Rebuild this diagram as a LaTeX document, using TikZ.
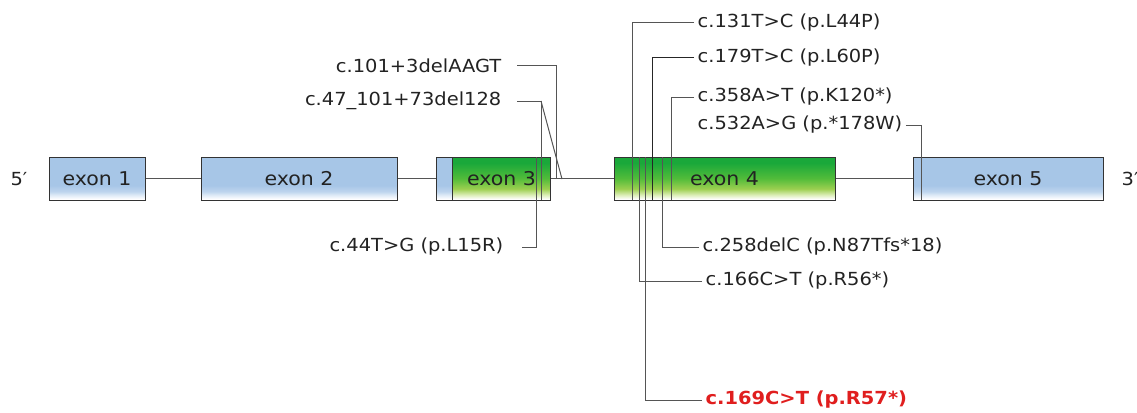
\documentclass[tikz,border=0pt]{standalone}
\usepackage{fontspec}
\setmainfont{DejaVu Sans}[FakeStretch=1.08]
\definecolor{eb1}{HTML}{A7C6E7}
\definecolor{eb2}{HTML}{BDD4ED}
\definecolor{eb3}{HTML}{E4EEF8}
\definecolor{eg1}{HTML}{1AA83A}
\definecolor{eg2}{HTML}{52BC3A}
\definecolor{eg3}{HTML}{9CCF50}
\definecolor{eg4}{HTML}{DCEDB8}
\definecolor{txt}{HTML}{222222}
\definecolor{lin}{HTML}{555555}
\definecolor{red1}{HTML}{E01E1E}
\pgfdeclareverticalshading{exonblue}{100bp}{color(0bp)=(white); color(26bp)=(white); color(30bp)=(eb3); color(35bp)=(eb2); color(42bp)=(eb1); color(75bp)=(eb1); color(100bp)=(eb1)}
\pgfdeclareverticalshading{exongreen}{100bp}{color(0bp)=(white); color(26bp)=(white); color(31bp)=(eg4); color(38bp)=(eg3); color(50bp)=(eg2); color(68bp)=(eg1); color(75bp)=(eg1); color(100bp)=(eg1)}
\tikzset{
  exonbox/.style={draw=black!80, line width=1pt, minimum height=43pt, inner sep=0pt,
    font=\fontsize{19}{21}\selectfont, text=txt},
  bluebox/.style={exonbox, shading=exonblue},
  greenbox/.style={exonbox, shading=exongreen},
  lbl/.style={font=\fontsize{18}{20}\selectfont, text=txt, inner sep=3.5pt},
  redlbl/.style={font=\fontsize{18}{20}\selectfont\bfseries, text=red1, inner sep=3.5pt},
  bb/.style={draw=lin, line width=1pt},
  mut/.style={draw=lin, line width=1pt},
  mutd/.style={draw=black!85, line width=1pt}
}
\begin{document}
\begin{tikzpicture}[x=1pt,y=-1pt]
\useasboundingbox (0,0) rectangle (1137,412);
% exons
\node[bluebox, minimum width=96pt] (e1) at (97,178.5) {exon 1};
\node[bluebox, minimum width=196pt] (e2) at (299,178.5) {exon 2};
\node[bluebox, minimum width=16pt, anchor=west] (e3a) at (436,178.5) {};
\node[greenbox, minimum width=98pt, anchor=west] (e3b) at (452,178.5) {exon 3};
\node[greenbox, minimum width=221pt] (e4) at (724.5,178.5) {exon 4};
\node[bluebox, minimum width=190pt] (e5) at (1008,178.5) {exon 5};
% backbone
\draw[bb] (e1.east) -- (e2.west);
\draw[bb] (e2.east) -- (e3a.west);
\draw[bb] (e3b.east) -- (e4.west);
\draw[bb] (e4.east) -- (e5.west);
% ends
\node[lbl] (p5) at (19,179) {5′};
\node[lbl, anchor=west] (p3) at (1118,179) {3′};
% mutation points
\coordinate (c131) at (632,200);
\coordinate (c179) at (652,200);
\coordinate (c358) at (671,200);
\coordinate (c532) at (921,200);
\coordinate (c258) at (662,157);
\coordinate (c166) at (639,157);
\coordinate (c169) at (645,157);
\coordinate (c101) at (556,179);
\coordinate (c47) at (541,200);
\coordinate (c47k) at (541,101);
\coordinate (c47e) at (562,179);
\coordinate (c44) at (536,157);
% labels right
\node[lbl, anchor=west] (l131) at (694,23) {c.131T>C (p.L44P)};
\node[lbl, anchor=west] (l179) at (694,58) {c.179T>C (p.L60P)};
\node[lbl, anchor=west] (l358) at (694,97) {c.358A>T (p.K120*)};
\node[lbl, anchor=west] (l532) at (694,125) {c.532A>G (p.*178W)};
\node[lbl, anchor=west] (l258) at (699,247) {c.258delC (p.N87Tfs*18)};
\node[lbl, anchor=west] (l166) at (702,281) {c.166C>T (p.R56*)};
\node[redlbl, anchor=west] (l169) at (702,400) {c.169C>T (p.R57*)};
% labels left
\node[lbl, anchor=east] (l101) at (505,66) {c.101+3delAAGT};
\node[lbl, anchor=east] (l47) at (505,101) {c.47\_101+73del128};
\node[lbl, anchor=east] (l44) at (507,247) {c.44T>G (p.L15R)};
% connectors
\draw[mut] (l131.west) -| (c131);
\draw[mutd] (l179.west) -| (c179);
\draw[mut] (l358.west) -| (c358);
\draw[mut] (l532.east) -| (c532);
\draw[mut] (l258.west) -| (c258);
\draw[mut] (l166.west) -| (c166);
\draw[mut] (l169.west) -| (c169);
\draw[mut] ([xshift=12pt]l101.east) -| (c101);
\draw[mut] ([xshift=12pt]l47.east) -| (c47);
\draw[mut] (c47k) -- (c47e);
\draw[mut] ([xshift=15pt]l44.east) -| (c44);
\end{tikzpicture}
\end{document}
